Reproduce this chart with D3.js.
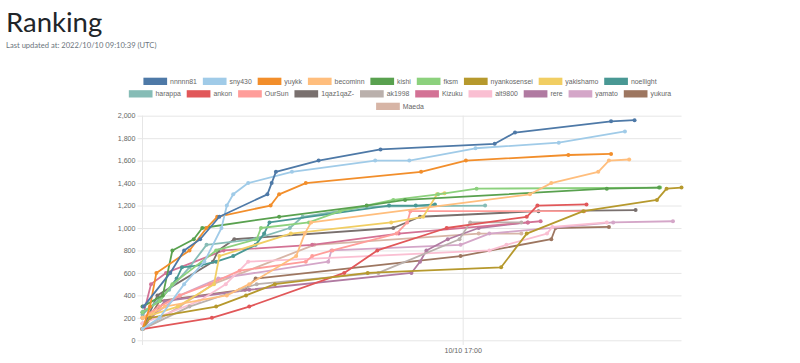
<!DOCTYPE html>
<html>
<head>
<meta charset="utf-8">
<script src="https://cdn.jsdelivr.net/npm/d3@7"></script>
<style>
  body { margin: 0; background: #fff; }
  svg { display: block; }
</style>
</head>
<body>
<div id="chart"></div>
<script>
// players, in legend order, and their colours
const players = ["nnnnn81", "sny430", "yuykk", "becominn", "kishi", "fksm", "nyankosensei", "yakishamo", "noellight",
  "harappa", "ankon", "OurSun", "1qaz1qaZ-", "ak1998", "Kizuku", "alt9800", "rere", "yamato", "yukura", "Maeda"];
const colors = ["#4e79a7", "#a0cbe8", "#f28e2b", "#ffbe7d", "#59a14f", "#8cd17d", "#b6992d", "#f1ce63", "#499894",
  "#86bcb6", "#e15759", "#ff9d9a", "#79706e", "#bab0ac", "#d37295", "#fabfd2", "#b07aa1", "#d4a6c8", "#9d7660", "#d7b5a6"];

// [time, score] (2022/10/10)
const s_nnnnn81 = [["12:01",300],["12:26",600],["12:39",800],["12:54",900],["13:12",1100],["13:57",1300],["14:01",1400],["14:05",1500],["14:45",1600],["15:43",1700],["17:30",1750],["17:49",1850],["19:19",1950],["19:41",1960]];
const s_sny430 = [["12:00",100],["12:16",200],["12:39",500],["12:58",700],["13:14",1000],["13:19",1200],["13:25",1300],["13:39",1400],["14:20",1500],["15:38",1600],["16:10",1600],["17:12",1710],["18:30",1760],["19:32",1860]];
const s_yuykk = [["12:00",100],["12:07",300],["12:13",600],["12:44",800],["13:00",1000],["13:10",1100],["14:00",1200],["14:08",1300],["14:33",1400],["16:21",1500],["17:03",1600],["18:39",1650],["19:19",1660]];
const s_becominn = [["12:00",200],["12:21",300],["13:19",400],["13:40",500],["14:24",750],["14:32",950],["14:38",1050],["18:03",1300],["18:23",1400],["19:07",1500],["19:17",1600],["19:36",1610]];
const s_kishi = [["12:00",300],["12:19",400],["12:28",800],["12:48",900],["12:56",1000],["14:08",1100],["15:30",1200],["16:06",1250],["19:15",1350],["20:04",1360]];
const s_fksm = [["12:00",250],["12:16",350],["12:28",500],["13:09",800],["13:47",900],["13:51",1000],["14:36",1050],["15:05",1150],["15:55",1250],["16:37",1300],["17:13",1350],["20:05",1360]];
const s_nyankosensei = [["12:00",100],["12:07",200],["13:09",300],["13:37",400],["14:04",500],["15:31",600],["17:36",650],["18:00",950],["18:53",1150],["20:02",1250],["20:11",1350],["20:25",1360]];
const s_yakishamo = [["12:00",200],["12:33",300],["13:07",500],["13:12",750],["14:19",950],["15:53",1050],["16:23",1100],["16:36",1300],["16:43",1310]];
const s_noellight = [["12:00",250],["12:16",350],["12:32",550],["12:37",650],["12:55",670],["13:09",700],["13:25",750],["13:46",850],["13:54",950],["13:59",1050],["15:51",1200],["16:16",1200],["16:34",1210]];
const s_harappa = [["12:00",230],["12:25",450],["12:44",650],["13:00",850],["13:45",900],["14:18",1000],["14:30",1100],["15:30",1190],["17:21",1200]];
const s_ankon = [["12:00",100],["13:05",200],["13:40",300],["15:09",600],["15:40",800],["16:45",1000],["18:00",1100],["18:10",1200],["18:56",1210]];
const s_OurSun = [["12:00",200],["12:16",300],["12:35",400],["13:03",500],["13:31",620],["14:33",700],["14:39",750],["14:58",800],["15:58",950],["16:08",1050],["16:11",1150],["18:54",1150]];
const s_1qaz1qaZ = [["12:00",100],["12:14",400],["13:06",700],["13:11",800],["13:26",900],["15:55",1000],["16:20",1100],["18:11",1150],["19:42",1160]];
const s_ak1998 = [["12:00",100],["12:44",300],["13:31",450],["13:47",500],["15:41",600],["16:57",900],["17:07",1050],["17:55",1050]];
const s_Kizuku = [["12:00",200],["12:08",500],["12:22",600],["13:16",800],["14:39",850],["16:00",950],["18:01",1050],["18:13",1060]];
const s_alt9800 = [["12:00",150],["12:53",350],["13:18",500],["13:39",700],["17:25",800],["17:41",850],["18:19",950],["18:24",1010],["19:15",1050]];
const s_rere = [["12:00",100],["12:21",350],["13:40",450],["16:12",600],["16:20",700],["16:26",800],["16:46",900],["17:15",1000],["18:01",1050]];
const s_yamato = [["12:00",150],["12:35",400],["13:11",550],["14:54",700],["14:57",800],["16:58",850],["17:25",950],["19:21",1050],["20:17",1060]];
const s_yukura = [["12:00",100],["12:16",350],["13:36",450],["13:46",550],["16:58",750],["18:23",900],["18:27",1000],["19:17",1010]];
const s_Maeda = [["12:00",100],["12:35",300],["13:06",500],["14:41",850],["17:15",950],["17:55",950]];

const scores = [s_nnnnn81, s_sny430, s_yuykk, s_becominn, s_kishi, s_fksm, s_nyankosensei, s_yakishamo, s_noellight,
  s_harappa, s_ankon, s_OurSun, s_1qaz1qaZ, s_ak1998, s_Kizuku, s_alt9800, s_rere, s_yamato, s_yukura, s_Maeda];

const yTicks = [0, 200, 400, 600, 800, 1000, 1200, 1400, 1600, 1800, 2000];
const xTicks = ["17:00"];

const width = 800, height = 363;
const font = "'Liberation Sans', Arial, sans-serif";
const fs = 7.1;   // axis font
const lfs = 6.9;  // legend font

const parse = d3.timeParse("%Y/%m/%d %H:%M");
const t = s => parse("2022/10/10 " + s);

const svg = d3.select("#chart").append("svg")
  .attr("width", width)
  .attr("height", height);

// header
svg.append("text")
  .attr("x", 6).attr("y", 32)
  .attr("font-family", "Lato, 'Noto Sans', sans-serif")
  .attr("font-size", 27.5)
  .attr("fill", "#212529")
  .text("Ranking");
svg.append("text")
  .attr("x", 6).attr("y", 48)
  .attr("font-family", "Lato, 'Noto Sans', sans-serif")
  .attr("font-size", 7.6)
  .attr("fill", "#6c757d")
  .text("Last updated at: 2022/10/10 09:10:39 (UTC)");

// scales
const allTimes = [].concat(...scores).map(d => t(d[0]));
const x = d3.scaleTime().domain(d3.extent(allTimes)).range([142.5, 681.5]);
const y = d3.scaleLinear().domain([0, 2000]).range([340.3, 115.7]);

// y grid + labels
const yAxis = svg.append("g")
  .attr("transform", "translate(681.5,0)")
  .call(d3.axisLeft(y).tickValues(yTicks).tickFormat(d3.format(",")).tickSize(544).tickPadding(2));
yAxis.select(".domain").remove();
yAxis.selectAll("line").attr("stroke", "#e6e6e6");
yAxis.selectAll("text").attr("font-family", font).attr("font-size", fs).attr("fill", "#666");

// x grid + labels
const xAxis = svg.append("g")
  .attr("transform", "translate(0,345)")
  .call(d3.axisBottom(x).tickValues(xTicks.map(t)).tickFormat(d3.timeFormat("%m/%d %H:%M")).tickSize(-229.3).tickPadding(3));
xAxis.select(".domain").remove();
xAxis.selectAll("line").attr("stroke", "#e6e6e6");
xAxis.selectAll("text").attr("font-family", font).attr("font-size", fs).attr("fill", "#666");

// left border of the plot
svg.append("line")
  .attr("x1", x.range()[0]).attr("x2", x.range()[0])
  .attr("y1", 115.7).attr("y2", 345)
  .attr("stroke", "#e6e6e6");

// lines, first player drawn last (on top)
const line = d3.line().x(d => x(t(d[0]))).y(d => y(d[1]));
const order = d3.range(players.length).reverse();

const sets = svg.append("g").selectAll("g")
  .data(order)
  .enter()
  .append("g");

sets.append("path")
  .attr("d", i => line(scores[i]))
  .attr("fill", "none")
  .attr("stroke", i => colors[i])
  .attr("stroke-width", 1.8)
  .attr("stroke-linejoin", "round");

sets.selectAll("circle")
  .data(i => scores[i].map(d => [d, i]))
  .enter()
  .append("circle")
  .attr("cx", d => x(t(d[0][0])))
  .attr("cy", d => y(d[0][1]))
  .attr("r", 2)
  .attr("fill", d => colors[d[1]]);

// legend (chart.js style rows, centred)
const boxW = 23.7, boxH = 7.3, pad = 5.9, maxW = 580, cx = 400;
const legend = svg.append("g");
const items = legend.selectAll("g")
  .data(players)
  .enter()
  .append("g");
items.append("rect")
  .attr("width", boxW).attr("height", boxH)
  .attr("fill", (d, i) => colors[i]);
items.append("text")
  .attr("x", boxW + 3)
  .attr("y", boxH / 2)
  .attr("dy", "0.35em")
  .attr("font-family", font)
  .attr("font-size", lfs)
  .attr("fill", "#666")
  .text(d => d);

const rows = [[]];
let rowW = 0;
items.each(function(d, i) {
  const w = boxW + 3 + this.querySelector("text").getComputedTextLength();
  if (i > 0 && rowW + w + 2 * pad > maxW) {
    rows.push([]);
    rowW = 0;
  }
  rows[rows.length - 1].push({ node: this, w: w });
  rowW += w + pad;
});
rows.forEach(function(row, r) {
  const total = d3.sum(row, d => d.w) + pad * (row.length - 1);
  let cur = cx - total / 2;
  row.forEach(function(it) {
    d3.select(it.node).attr("transform", "translate(" + cur + "," + (77.7 + r * 12.5) + ")");
    cur += it.w + pad;
  });
});
</script>
</body>
</html>
